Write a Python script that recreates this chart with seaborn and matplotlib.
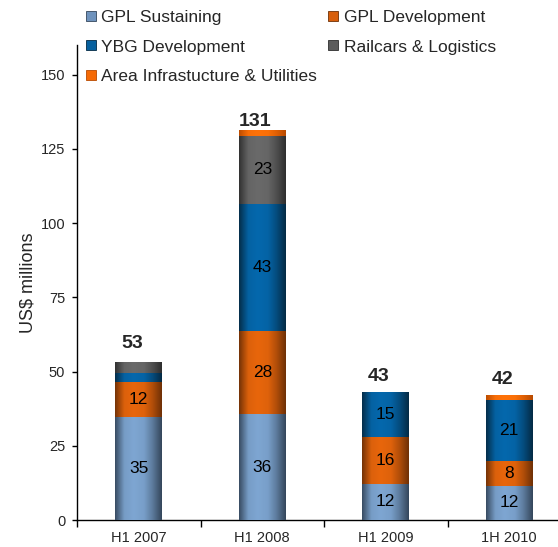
import numpy as np
import pandas as pd
import matplotlib
matplotlib.use("Agg")
import matplotlib.pyplot as plt
import seaborn as sns
from matplotlib.colors import LinearSegmentedColormap
from matplotlib.lines import Line2D

# ---------------- data ----------------
categories = ["H1 2007", "H1 2008", "H1 2009", "1H 2010"]
gpl_sustaining = [34.8, 35.6, 12.2, 11.6]
gpl_development = [11.8, 28.0, 15.8, 8.3]
ybg_development = [3.0, 42.8, 15.0, 20.6]
railcars_logistics = [3.6, 23.0, 0.0, 0.0]
area_infrastructure = [0.0, 2.0, 0.0, 1.6]
totals = [53, 131, 43, 42]

series_names = ["GPL Sustaining", "GPL Development", "YBG Development",
                "Railcars & Logistics", "Area Infrastucture & Utilities"]
series_values = [gpl_sustaining, gpl_development, ybg_development,
                 railcars_logistics, area_infrastructure]

# ---------------- style ----------------
base_colors = ["#6f93bd", "#d85f0c", "#07609e", "#5c5c5c", "#f56a06"]
dark_colors = ["#34465b", "#6e3006", "#042a44", "#2e2e2e", "#b84a00"]
light_colors = ["#7ea6d2", "#e8660c", "#0568ad", "#6a6a6a", "#ff7208"]
total_pad_pt = [10, 3, 8.4, 7.9]

sns.set_theme(style="white")
plt.rcParams["font.family"] = ["Liberation Sans", "DejaVu Sans"]

fig = plt.figure(figsize=(5.58, 5.47), dpi=100)
ax = fig.add_axes([77 / 558, 27 / 547, 494 / 558, 475 / 547])

df = pd.DataFrame({"category": categories})
bottom = np.zeros(len(categories))
x_grad = np.linspace(0, 1, 256)
profile = np.interp(x_grad, [0, 0.07, 0.2, 0.4, 0.62, 0.8, 0.92, 1.0],
                    [0.05, 0.35, 0.9, 1.0, 0.92, 0.55, 0.22, 0.0])
grad = np.tile(profile, (2, 1))

gradient_specs = []
for i, (name, vals) in enumerate(zip(series_names, series_values)):
    vals = np.asarray(vals, dtype=float)
    df[name] = vals
    n_before = len(ax.containers)
    sns.barplot(data=df, x="category", y=name, bottom=bottom.copy(),
                color=base_colors[i], saturation=1, width=0.38, ax=ax,
                linewidth=0, errorbar=None)
    cont = ax.containers[n_before]
    gradient_specs.append((i, cont))
    labels = [f"{v:.0f}" if v >= 5 else "" for v in vals]
    ax.bar_label(cont, labels=labels, label_type="center", fontsize=12.5,
                 color="black", zorder=6)
    bottom = bottom + vals

# cylinder-like gradient on each bar segment (extent taken from the seaborn patches)
for i, cont in gradient_specs:
    cmap = LinearSegmentedColormap.from_list(f"g{i}", [dark_colors[i], light_colors[i]])
    for patch in cont.patches:
        h = patch.get_height()
        if h <= 0:
            continue
        x0, y0, w = patch.get_x(), patch.get_y(), patch.get_width()
        ax.imshow(grad, extent=(x0, x0 + w, y0, y0 + h), cmap=cmap,
                  vmin=0, vmax=1, aspect="auto", origin="lower",
                  interpolation="bilinear", zorder=4)

# totals
for xi, (tot, top, pad) in enumerate(zip(totals, bottom, total_pad_pt)):
    ax.annotate(f"{tot}", xy=(xi, top), xytext=(-5, pad), textcoords="offset points",
                ha="center", va="baseline", fontsize=14, fontweight="bold", zorder=7)

ax.set_xlim(-0.5, 3.5)
ax.set_ylim(0, 160)
ax.set_yticks(np.arange(0, 151, 25))
ax.set_xticks(range(len(categories)))
ax.set_xticklabels(categories)
ax.set_xticks(np.arange(-0.5, 3.6, 1.0), minor=True)
ax.tick_params(axis="x", which="major", length=0, pad=8, labelsize=10.5)
ax.tick_params(axis="x", which="minor", length=5, width=1, direction="out", bottom=True, color="black")
ax.tick_params(axis="y", length=3.5, width=1, direction="out", left=True, pad=5, labelsize=10.5, color="black")
ax.set_xlabel("")
ax.set_ylabel("US$ millions", fontsize=13)
ax.yaxis.set_label_coords(-0.081, 0.5)
for s in ["top", "right"]:
    ax.spines[s].set_visible(False)
for s in ["left", "bottom"]:
    ax.spines[s].set_color("black")
    ax.spines[s].set_linewidth(1)
ax.set_facecolor("none")

handle_order = [0, 2, 4, 1, 3]
handles = [Line2D([], [], marker="s", linestyle="none", markersize=7.5,
                  markerfacecolor=base_colors[i], markeredgecolor=dark_colors[i],
                  markeredgewidth=0.6) for i in handle_order]
fig.legend(handles, [series_names[i] for i in handle_order], ncol=2,
           loc="upper left", bbox_to_anchor=(84.5 / 558, 1 - 9.5 / 547),
           frameon=False, fontsize=12.5, handlelength=0.7, handletextpad=0.25,
           columnspacing=0.6, labelspacing=0.85, borderpad=0, borderaxespad=0)

fig.savefig("out.png", dpi=100)
